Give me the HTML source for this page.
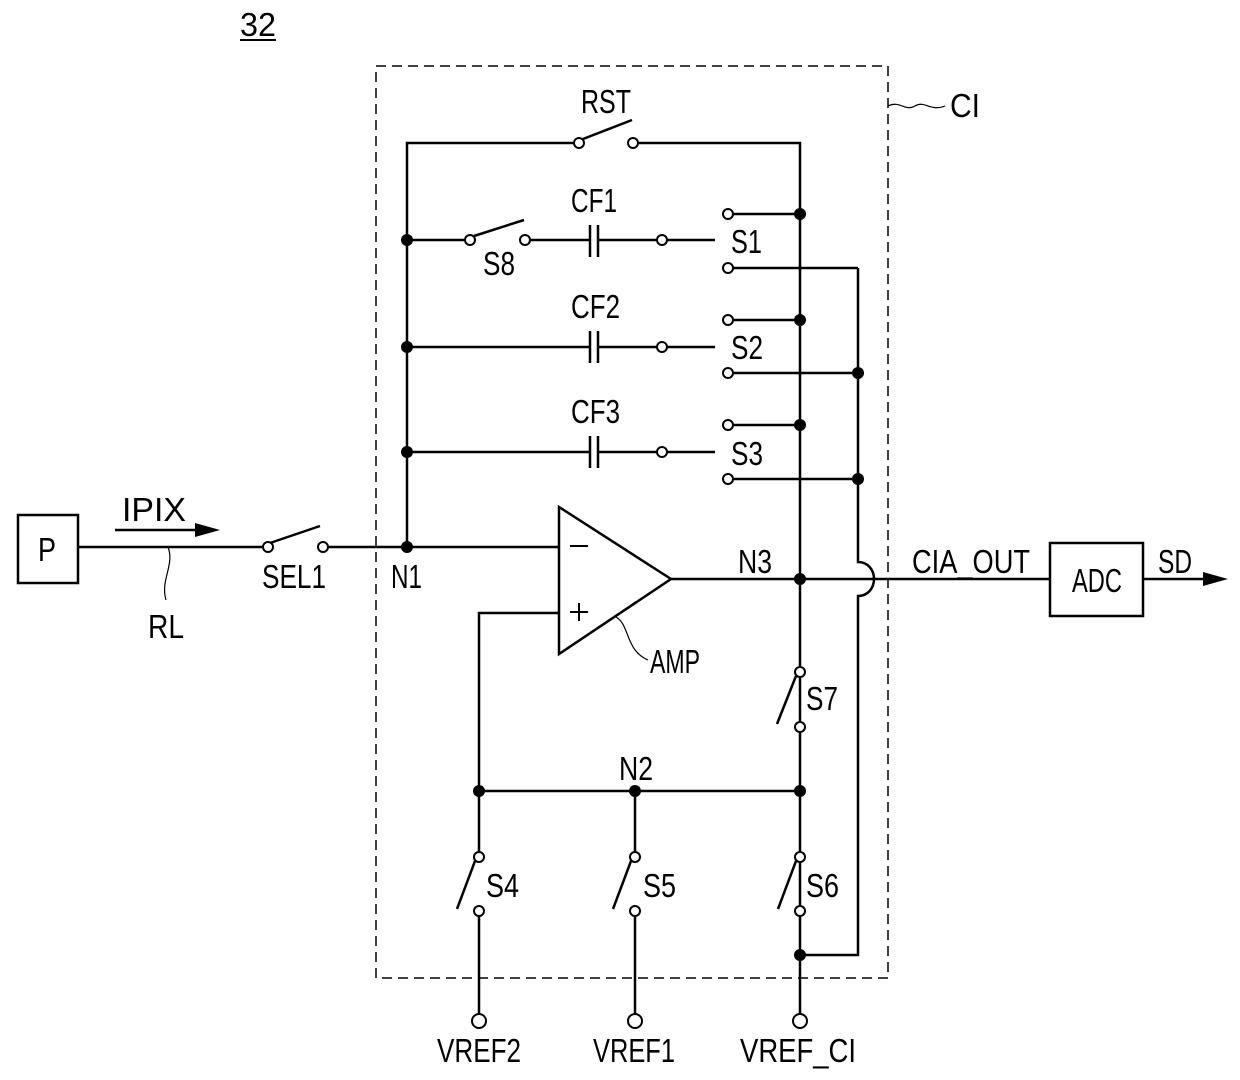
<!DOCTYPE html>
<html><head><meta charset="utf-8"><style>
html,body{margin:0;padding:0;background:#fff;}
svg{display:block}
text{font-family:"Liberation Sans",sans-serif;font-size:33px;fill:#000}
</style></head><body>
<svg width="1240" height="1080" viewBox="0 0 1240 1080" xmlns="http://www.w3.org/2000/svg">
<g stroke="#000" stroke-width="2.5" fill="none">
<rect x="376" y="66" width="512" height="912" stroke-width="1.5" stroke-dasharray="10,6"/>
<path d="M888,106 C900,100 905,112 915,106 C925,100 930,112 945,106" stroke-width="1.2"/>
<path d="M407,547 V143 H575"/>
<path d="M637,143 H800 V1014"/>
<path d="M583,139 L632,120"/>
<path d="M407,240 H466 M474,236 L524,220 M529,240 H590 M598,240 H658 M666,240 H715"/>
<path d="M590,225 V257 M598,225 V257"/>
<path d="M732,214 H800 M732,268 H858"/>
<path d="M407,347 H590 M598,347 H658 M666,347 H715 M590,331 V363 M598,331 V363"/>
<path d="M732,320 H800 M732,373 H858"/>
<path d="M407,452 H590 M598,452 H658 M666,452 H715 M590,436 V468 M598,436 V468"/>
<path d="M732,425 H800 M732,479 H858"/>
<path d="M858,268 V562 C868,562 874,570 874,579 C874,588 868,596 858,596 V955 H800"/>
<rect x="18" y="515" width="60" height="68"/>
<path d="M78,547 H264 M270,543 L320,526 M327,547 H559"/>
<path d="M115,530 H200"/>
<path d="M168,547 C175,565 160,580 166,600" stroke-width="1.2"/>
<path d="M559,507 L559,654 L671,579 Z"/>
<path d="M570,546 H588 M570,612 H588 M579,603 V621" stroke-width="2"/>
<path d="M616,617 C630,625 625,650 648,660" stroke-width="1.2"/>
<path d="M559,613 H479 V853 M671,579 H1050"/>
<rect x="1050" y="543" width="93" height="73"/>
<path d="M1143,579 H1205"/>
<path d="M479,791 H800 M635,791 V853"/>
<path d="M796,676 L777,724"/>
<path d="M475,861 L457,909 M631,861 L613,909 M796,861 L778,909"/>
<path d="M479,915 V1014 M635,915 V1014"/>
<path d="M240,40 H276" stroke-width="2"/>
</g>
<polygon points="195,523 220,530 195,537" fill="#000"/>
<polygon points="1203,572 1228,579 1203,586" fill="#000"/>
<g fill="#fff" stroke="#000" stroke-width="2">
<circle cx="579" cy="143" r="5"/><circle cx="633" cy="143" r="5"/>
<circle cx="470" cy="240" r="5"/><circle cx="525" cy="240" r="5"/>
<circle cx="662" cy="240" r="5"/><circle cx="662" cy="347" r="5"/><circle cx="662" cy="452" r="5"/>
<circle cx="728" cy="214" r="5"/><circle cx="728" cy="268" r="5"/>
<circle cx="728" cy="320" r="5"/><circle cx="728" cy="373" r="5"/>
<circle cx="728" cy="425" r="5"/><circle cx="728" cy="479" r="5"/>
<circle cx="268" cy="547" r="5"/><circle cx="323" cy="547" r="5"/>
<circle cx="800" cy="672" r="5"/><circle cx="800" cy="727" r="5"/>
<circle cx="479" cy="857" r="5"/><circle cx="479" cy="911" r="5"/>
<circle cx="635" cy="857" r="5"/><circle cx="635" cy="911" r="5"/>
<circle cx="800" cy="857" r="5"/><circle cx="800" cy="911" r="5"/>
<circle cx="479" cy="1021" r="7"/><circle cx="635" cy="1021" r="7"/><circle cx="800" cy="1021" r="7"/>
</g>
<g fill="#000">
<circle cx="407" cy="240" r="6"/><circle cx="407" cy="347" r="6"/><circle cx="407" cy="452" r="6"/><circle cx="407" cy="547" r="6"/>
<circle cx="800" cy="214" r="6"/><circle cx="800" cy="320" r="6"/><circle cx="800" cy="425" r="6"/><circle cx="800" cy="579" r="6"/>
<circle cx="858" cy="373" r="6"/><circle cx="858" cy="479" r="6"/>
<circle cx="479" cy="791" r="6"/><circle cx="635" cy="791" r="6"/><circle cx="800" cy="791" r="6"/>
<circle cx="800" cy="955" r="6"/>
</g>
<text x="240" y="36" textLength="36" lengthAdjust="spacingAndGlyphs">32</text>
<text x="581" y="113" textLength="50" lengthAdjust="spacingAndGlyphs">RST</text>
<text x="950" y="117" textLength="30" lengthAdjust="spacingAndGlyphs">CI</text>
<text x="571" y="212" textLength="46" lengthAdjust="spacingAndGlyphs">CF1</text>
<text x="571" y="318" textLength="49" lengthAdjust="spacingAndGlyphs">CF2</text>
<text x="571" y="423" textLength="49" lengthAdjust="spacingAndGlyphs">CF3</text>
<text x="483" y="275" textLength="32" lengthAdjust="spacingAndGlyphs">S8</text>
<text x="731" y="253" textLength="31" lengthAdjust="spacingAndGlyphs">S1</text>
<text x="731" y="359" textLength="32" lengthAdjust="spacingAndGlyphs">S2</text>
<text x="731" y="465" textLength="32" lengthAdjust="spacingAndGlyphs">S3</text>
<text x="122" y="521" textLength="64" lengthAdjust="spacingAndGlyphs">IPIX</text>
<text x="38" y="561" textLength="18" lengthAdjust="spacingAndGlyphs">P</text>
<text x="148" y="638" textLength="36" lengthAdjust="spacingAndGlyphs">RL</text>
<text x="262" y="588" textLength="64" lengthAdjust="spacingAndGlyphs">SEL1</text>
<text x="391" y="588" textLength="31" lengthAdjust="spacingAndGlyphs">N1</text>
<text x="738" y="573" textLength="34" lengthAdjust="spacingAndGlyphs">N3</text>
<text x="912" y="573" textLength="118" lengthAdjust="spacingAndGlyphs">CIA_OUT</text>
<text x="1072" y="592" textLength="50" lengthAdjust="spacingAndGlyphs">ADC</text>
<text x="1158" y="573" textLength="34" lengthAdjust="spacingAndGlyphs">SD</text>
<text x="650" y="673" textLength="50" lengthAdjust="spacingAndGlyphs">AMP</text>
<text x="806" y="710" textLength="32" lengthAdjust="spacingAndGlyphs">S7</text>
<text x="619" y="780" textLength="34" lengthAdjust="spacingAndGlyphs">N2</text>
<text x="486" y="897" textLength="33" lengthAdjust="spacingAndGlyphs">S4</text>
<text x="643" y="897" textLength="33" lengthAdjust="spacingAndGlyphs">S5</text>
<text x="806" y="897" textLength="33" lengthAdjust="spacingAndGlyphs">S6</text>
<text x="437" y="1062" textLength="84" lengthAdjust="spacingAndGlyphs">VREF2</text>
<text x="593" y="1062" textLength="82" lengthAdjust="spacingAndGlyphs">VREF1</text>
<text x="740" y="1062" textLength="116" lengthAdjust="spacingAndGlyphs">VREF_CI</text>
</svg>
</body></html>
